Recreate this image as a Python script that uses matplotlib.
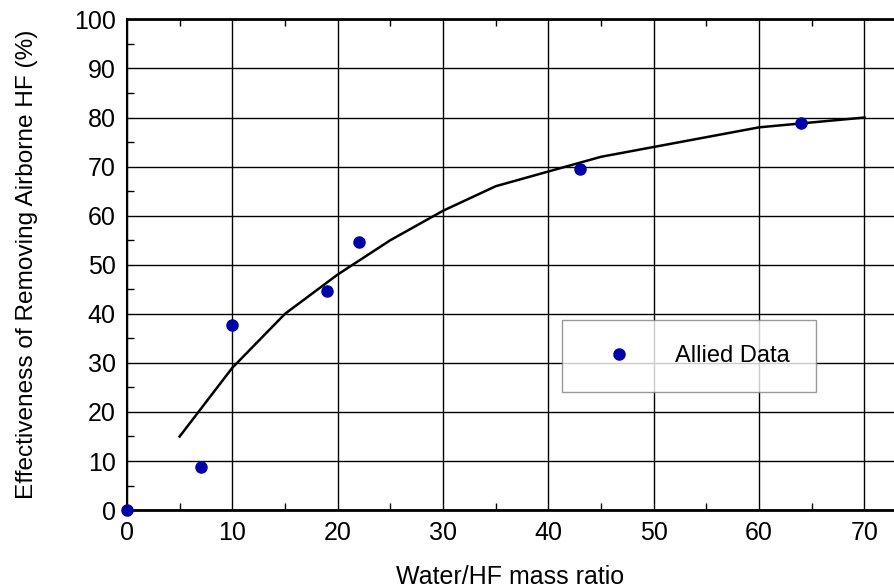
import matplotlib.pyplot as plt
from matplotlib.ticker import MultipleLocator

plt.rcParams['font.family'] = ['Liberation Sans', 'DejaVu Sans']

# Allied measured data
data_x = [0, 7, 10, 19, 22, 43, 64]
data_y = [0, 8.7, 37.8, 44.6, 54.7, 69.6, 78.8]

# model curve
curve_x = [5, 10, 15, 20, 25, 30, 35, 40, 45, 50, 55, 60, 65, 70]
curve_y = [15, 29, 40, 48, 55, 61, 66, 69, 72, 74, 76, 78, 79, 80]

fig = plt.figure(figsize=(8.94, 5.87), dpi=100)
ax = fig.add_axes([0.142, 0.131, 0.858, 0.836])

ax.plot(curve_x, curve_y, color='black', lw=1.8, zorder=3)
ax.plot(data_x, data_y, 'o', color='#0000a8', ms=8, label='Allied Data',
        clip_on=False, zorder=4)

ax.set_xlim(0, 72.8)
ax.set_ylim(0, 100)
ax.xaxis.set_major_locator(MultipleLocator(10))
ax.yaxis.set_major_locator(MultipleLocator(10))
ax.xaxis.set_minor_locator(MultipleLocator(5))
ax.yaxis.set_minor_locator(MultipleLocator(5))
ax.grid(True, which='major', color='black', lw=1.0)
ax.tick_params(which='both', direction='in', top=True, labelsize=18,
               color='black')
ax.tick_params(which='major', length=0, pad=8)
ax.tick_params(which='minor', length=5, width=1)

ax.spines['right'].set_visible(False)
ax.spines['top'].set_linewidth(2)
ax.spines['bottom'].set_linewidth(2)
ax.spines['left'].set_linewidth(1.5)

ax.set_xlabel('Water/HF mass ratio', fontsize=18, labelpad=14)
ax.set_ylabel('Effectiveness of Removing Airborne HF (%)', fontsize=17.6,
              labelpad=26)

leg = ax.legend(loc='upper left', bbox_to_anchor=(0.567, 0.242, 0.331, 0.145),
                mode='expand', fontsize=17, frameon=True, fancybox=False,
                borderpad=1.05, handletextpad=1.06, handlelength=2.7,
                borderaxespad=0)
leg.get_frame().set_edgecolor('#808080')
leg.get_frame().set_linewidth(1.0)

fig.savefig('out.png', dpi=100)
